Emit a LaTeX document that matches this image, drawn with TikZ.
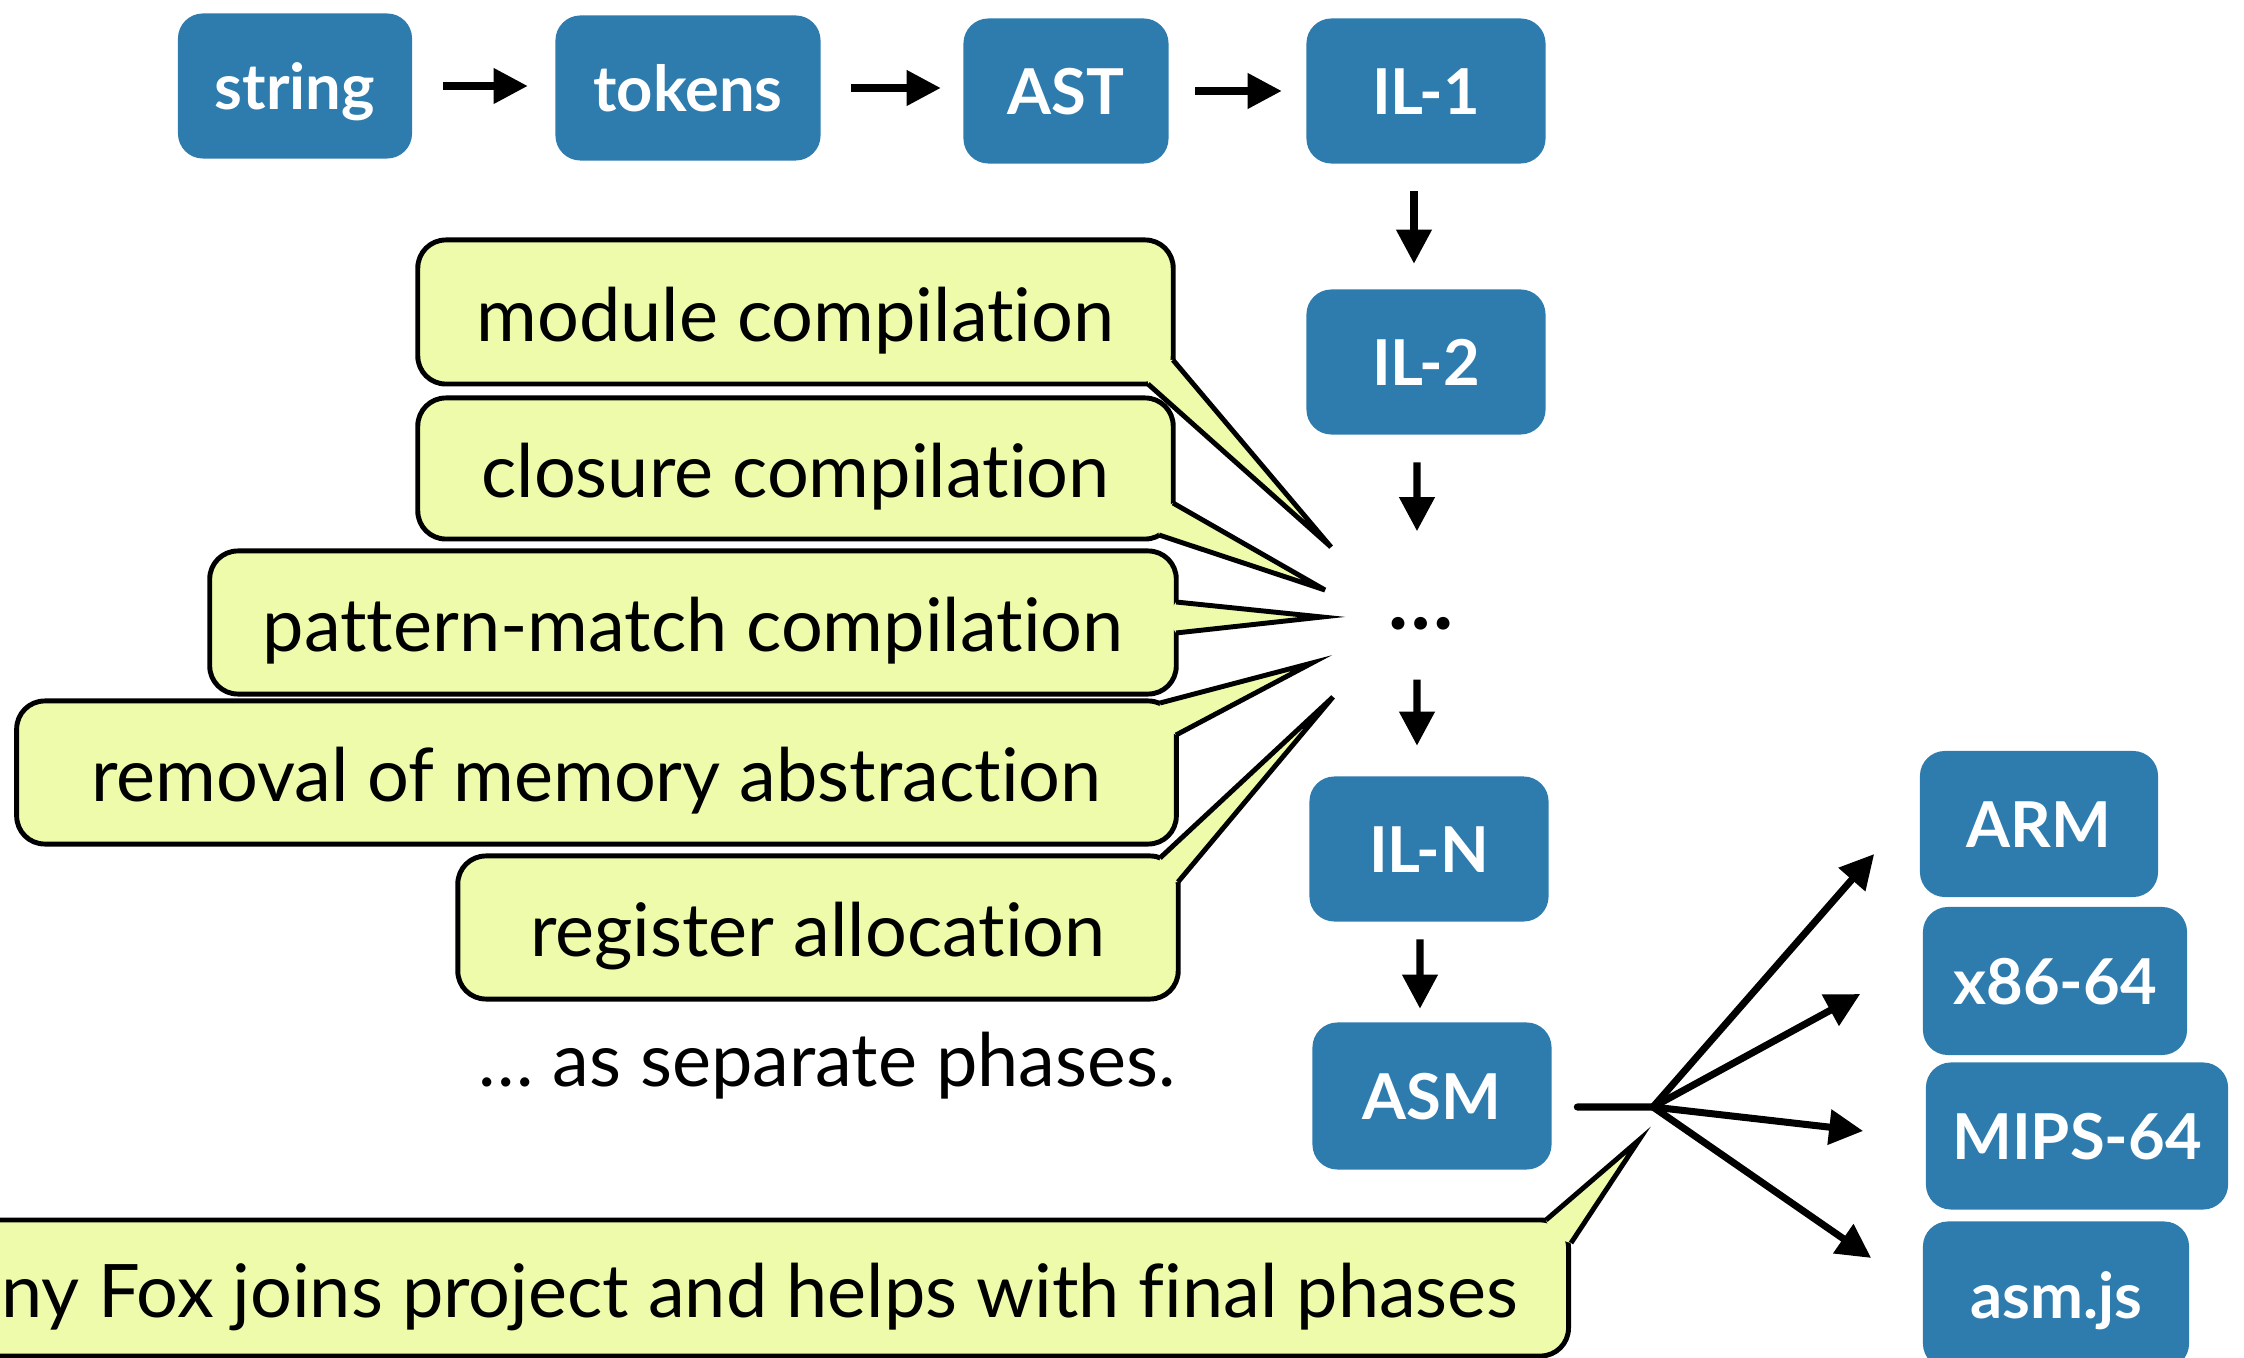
\documentclass[tikz,border=0pt]{standalone}
\usepackage{fontspec}
\setmainfont{Lato}[RawFeature=-liga]
\usetikzlibrary{arrows.meta,calc}
\definecolor{stageblue}{RGB}{46,124,174}
\definecolor{noteyellow}{RGB}{238,251,170}

% pointer of a speech balloon: two base points on the balloon border, then the tip
\newcommand{\notetail}[3]{%
  \fill[noteyellow] (#1) -- (#3) -- (#2) -- ($(#1)!0.5!(#2)!-0.07!(#3)$) -- cycle;
  \draw[line width=1.4pt, line join=miter] (#1) -- (#3) -- (#2);
}

\begin{document}
\begin{tikzpicture}[x=0.01cm,y=-0.01cm,
  stage/.style={fill=stageblue, rounded corners=0.25cm, text=white,
    font=\fontsize{18}{20}\selectfont\bfseries, inner sep=0pt,
    text height=0.46cm, text depth=0cm,
    minimum width=2.39cm, minimum height=1.45cm},
  note/.style={draw=black, line width=1.4pt, fill=noteyellow, rounded corners=0.28cm,
    font=\fontsize{21}{24}\selectfont, inner sep=0pt,
    text height=0.62cm, text depth=0.04cm},
  flow/.style={line width=2pt, -{Triangle[length=0.34cm,width=0.34cm]}},
  fanline/.style={line width=2pt, line cap=round},
]
\useasboundingbox (0,0) rectangle (2244,1358);

% front end
\node[stage, minimum width=2.34cm] (string) at (295,86) {string};
\node[stage, minimum width=2.65cm] (tokens) at (688,88) {tokens};
\node[stage, minimum width=2.05cm] (ast) at (1066,91) {AST};
\node[stage] (il1) at (1426,91) {IL-1};

% intermediate languages
\node[stage] (il2) at (1426,362) {IL-2};
\node[font=\fontsize{24}{24}\selectfont\bfseries, inner sep=0pt, minimum height=1.1cm] (dots) at (1421,624) {…};
\node[stage] (iln) at (1429,849) {IL-N};
\node[stage, minimum height=1.47cm] (asm) at (1432,1096) {ASM};

% targets
\node[stage, minimum width=2.38cm, minimum height=1.46cm] (arm) at (2039,824) {ARM};
\node[stage, minimum width=2.64cm, minimum height=1.48cm] (x86) at (2055,981) {x86-64};
\node[stage, minimum width=3.02cm, minimum height=1.47cm] (mips) at (2077,1136) {MIPS-64};
\node[stage, minimum width=2.66cm, minimum height=1.47cm] (asmjs) at (2056,1295) {asm.js};

% pipeline arrows
\draw[flow, shorten <=0.30cm, shorten >=0.27cm] (string.east) -- (string.east -| tokens.west);
\draw[flow, shorten <=0.30cm, shorten >=0.22cm] (tokens.east) -- (tokens.east -| ast.west);
\draw[flow, shorten <=0.26cm, shorten >=0.24cm] (ast.east) -- (ast.east -| il1.west);
\draw[flow, shorten <=0.27cm, shorten >=0.25cm] ([xshift=-0.12cm]il1.south) -- ([xshift=-0.12cm]il2.north);
\draw[flow, shorten <=0.27cm, shorten >=0.37cm] ([xshift=-0.09cm]il2.south) -- ([xshift=-0.04cm]dots.north);
\draw[flow, shorten >=0.30cm] ([xshift=-0.04cm]dots.south) -- ([xshift=-0.12cm]iln.north);
\draw[flow, shorten <=0.17cm, shorten >=0.13cm] ([xshift=-0.09cm]iln.south) -- ([xshift=-0.12cm]asm.north);

% fan-out to the back ends
\coordinate (fan) at (1653,1107);
\draw[fanline] ([xshift=0.25cm,yshift=-0.11cm]asm.east) -- (fan);
\draw[flow, line cap=round] (fan) -- ([xshift=-0.45cm,yshift=-0.30cm]arm.west);
\draw[flow, line cap=round] (fan) -- ([xshift=-0.62cm,yshift=-0.13cm]x86.west);
\draw[flow, line cap=round] (fan) -- ([xshift=-0.62cm,yshift=0.05cm]mips.west);
\draw[flow, line cap=round] (fan) -- ([xshift=-0.51cm,yshift=0.37cm]asmjs.west);

% balloons naming the phases
\node[note, minimum width=7.55cm, minimum height=1.44cm] (modc) at (795.5,312) {module compilation};
\notetail{1173,360}{1148,384}{1331,547}
\node[note, minimum width=7.55cm, minimum height=1.41cm] (cloc) at (795.5,468.5) {closure compilation};
\notetail{1173,503}{1159,535}{1325,590}
\node[note, minimum width=9.66cm, minimum height=1.43cm] (patc) at (693,622.5) {pattern-match compilation};
\notetail{1176,602}{1176,633}{1322,617}
\node[note, minimum width=11.59cm, minimum height=1.43cm] (remc) at (596.5,772.5) {removal of memory abstraction};
\notetail{1160,703}{1176,735}{1312,663}
\node[note, minimum width=7.20cm, minimum height=1.43cm] (regc) at (818,927.5) {register allocation};
\notetail{1160,858}{1178,882}{1333,697}

\node[font=\fontsize{21}{24}\selectfont, inner sep=0pt] (sep) at (827,1066) {… as separate phases.};

\node[note, anchor=east, minimum height=1.36cm, inner xsep=0.5cm] (fox) at (1571,1288)
  {Anthony Fox joins project and helps with final phases};
\notetail{1546,1220}{1571,1243}{1639,1140}
\end{tikzpicture}
\end{document}
